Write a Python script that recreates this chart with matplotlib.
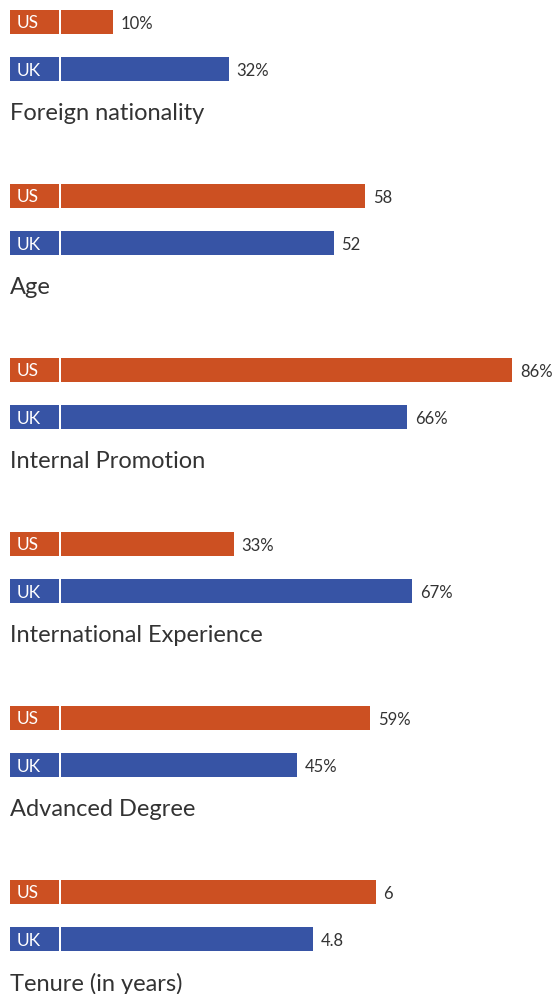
import matplotlib.pyplot as plt

categories = ['Foreign nationality', 'Age', 'Internal Promotion',
              'International Experience', 'Advanced Degree', 'Tenure (in years)']
us_values = [10, 58, 86, 33, 59, 6]
uk_values = [32, 52, 66, 67, 45, 4.8]
us_labels = ['10%', '58', '86%', '33%', '59%', '6']
uk_labels = ['32%', '52', '66%', '67%', '45%', '4.8']
# tenure is drawn on a x10 scale so it fits with the others
scale = [1, 1, 1, 1, 1, 10]

orange = '#cc5022'
blue = '#3754a5'
text_col = '#333333'
font = 'Lato'

W, H = 556, 995
px = 5.25          # pixels per unit
x0 = 60.5          # pixel where 0 sits

fig = plt.figure(figsize=(W / 100, H / 100), dpi=100)
ax = fig.add_axes([0, 0, 1, 1])
ax.set_xlim(-x0 / px, (W - x0) / px)
ax.set_ylim(H, 0)
ax.axis('off')

box_left = -9.6
box_w = 9.35
bar_h = 24
step = 174

for i, cat in enumerate(categories):
    top = 11 + i * step
    for j, (vals, labs, col, name) in enumerate([(us_values, us_labels, orange, 'US'),
                                                 (uk_values, uk_labels, blue, 'UK')]):
        yc = top + j * 47 + bar_h / 2
        v = vals[i] * scale[i]
        ax.barh(yc, box_w, left=box_left, height=bar_h, color=col, linewidth=0)
        ax.barh(yc, v, left=0, height=bar_h, color=col, linewidth=0)
        ax.text(box_left + 1.25, yc + 0.5, name, color='white', fontsize=12.5,
                family=font, va='center', ha='left')
        ax.text(v + 1.5, yc + 1, labs[i], color=text_col, fontsize=12,
                family=font, va='center', ha='left')
    ax.text(box_left, top + 103, cat, color=text_col, fontsize=17,
            family=font, va='center', ha='left')

fig.savefig('out.png', dpi=100)
